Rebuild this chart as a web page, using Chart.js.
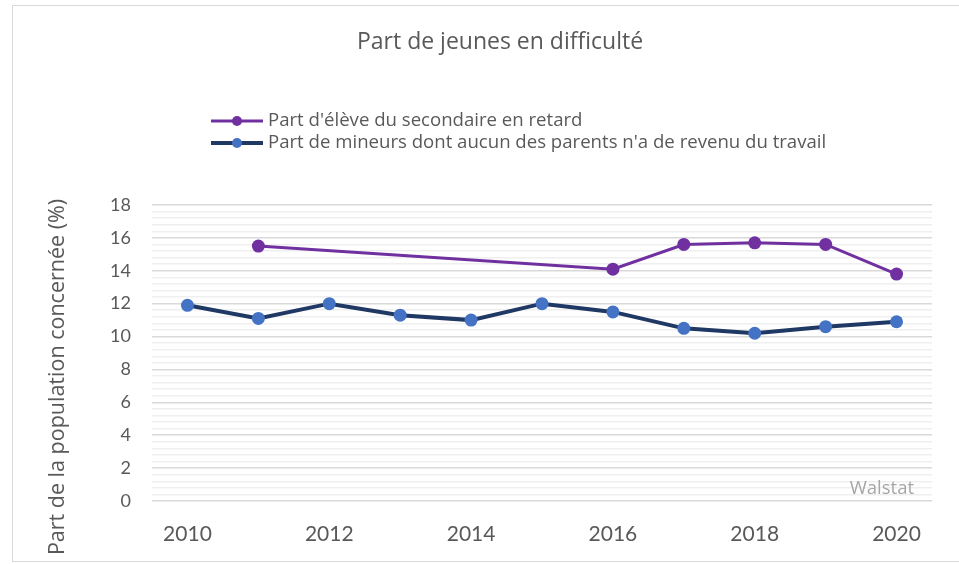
<!DOCTYPE html>
<html>
<head>
<meta charset="utf-8">
<script src="https://cdn.jsdelivr.net/npm/chart.js@4.4.1/dist/chart.umd.min.js"></script>
<style>
  html, body { margin: 0; background: #fff; }
  #wrap { width: 959px; height: 564px; }
</style>
</head>
<body>
<div id="wrap"><canvas id="chart"></canvas></div>
<script>
// ── Data ─────────────────────────────────────────────────────────────────────
const years = ['2010', '2011', '2012', '2013', '2014', '2015', '2016', '2017', '2018', '2019', '2020']
const eleveRetard = [null, 15.5, null, null, null, null, 14.1, 15.6, 15.7, 15.6, 13.8]
const mineursSansRevenu = [11.9, 11.1, 12.0, 11.3, 11.0, 12.0, 11.5, 10.5, 10.2, 10.6, 10.9]

const yMin = 0
const yMax = 18
const yMinorStep = 0.4
const yLabelStep = 2

const chartTitle = 'Part de jeunes en difficulté'
const seriesLabels = [
  "Part d'élève du secondaire en retard",
  "Part de mineurs dont aucun des parents n'a de revenu du travail",
]
const yAxisTitle = 'Part de la population concernée (%)'
const sourceNote = 'Walstat'

const FONT = '"Open Sans", sans-serif'
const TICK_FONT = 'Lato, sans-serif'
const TEXT = '#595959'

const isMajor = v => Math.abs(v / yLabelStep - Math.round(v / yLabelStep)) < 1e-6

// ── Decorations: frame, title, legend, axis title, source ───────────────────
const decorPlugin = {
  id: 'decor',
  beforeDraw(chart) {
    const ctx = chart.ctx
    ctx.save()
    ctx.fillStyle = '#fff'
    ctx.fillRect(0, 0, chart.width, chart.height)
    ctx.strokeStyle = '#d9d9d9'
    ctx.lineWidth = 1
    ctx.strokeRect(12.5, 5.5, chart.width, chart.height - 8)
    ctx.restore()
  },
  afterDraw(chart) {
    const ctx = chart.ctx
    ctx.save()

    // title
    ctx.font = `23px ${FONT}`
    ctx.fillStyle = TEXT
    ctx.textAlign = 'center'
    ctx.textBaseline = 'middle'
    ctx.fillText(chartTitle, 500, 42)

    // legend, one entry per row
    ctx.font = `18.6px ${FONT}`
    ctx.textAlign = 'left'
    chart.data.datasets.forEach((ds, i) => {
      const y = 121 + i * 22
      ctx.strokeStyle = ds.borderColor
      ctx.lineWidth = ds.borderWidth
      ctx.beginPath()
      ctx.moveTo(211, y)
      ctx.lineTo(263, y)
      ctx.stroke()
      ctx.fillStyle = ds.pointBackgroundColor
      ctx.beginPath()
      ctx.arc(237, y, 5, 0, Math.PI * 2)
      ctx.fill()
      ctx.fillStyle = TEXT
      ctx.fillText(ds.label, 268, y)
    })

    // y axis title
    ctx.translate(58, 377)
    ctx.rotate(-Math.PI / 2)
    ctx.font = `21.5px ${FONT}`
    ctx.textAlign = 'center'
    ctx.fillText(yAxisTitle, 0, 0)
    ctx.restore()

    // source
    ctx.save()
    ctx.font = `18.5px ${FONT}`
    ctx.fillStyle = '#a6a6a6'
    ctx.textAlign = 'right'
    ctx.textBaseline = 'middle'
    ctx.fillText(sourceNote, 914, 489)
    ctx.restore()
  },
}

const config = {
  type: 'line',
  plugins: [decorPlugin],
  data: {
    labels: years,
    datasets: [
      {
        label: seriesLabels[0],
        data: eleveRetard,
        borderColor: '#7030a0',
        backgroundColor: '#7030a0',
        borderWidth: 3,
        pointRadius: 6.5,
        pointBackgroundColor: '#7030a0',
        pointBorderColor: '#7030a0',
        pointBorderWidth: 0,
        spanGaps: true,
        tension: 0,
      },
      {
        label: seriesLabels[1],
        data: mineursSansRevenu,
        borderColor: '#203864',
        backgroundColor: '#4472c4',
        borderWidth: 4,
        pointRadius: 6.5,
        pointBackgroundColor: '#4472c4',
        pointBorderColor: '#4472c4',
        pointBorderWidth: 0,
        tension: 0,
      },
    ],
  },
  options: {
    responsive: true,
    maintainAspectRatio: false,
    animation: false,
    layout: { padding: { left: 0, right: 27, top: 205, bottom: 0 } },
    plugins: {
      legend: { display: false },
      title: { display: false },
      tooltip: { enabled: false },
    },
    scales: {
      x: {
        type: 'category',
        offset: true,
        grid: { display: false, drawTicks: false },
        border: { display: false },
        ticks: {
          autoSkip: false,
          maxRotation: 0,
          padding: 21,
          color: TEXT,
          font: { family: TICK_FONT, size: 21 },
          callback: (v, i) => (i % 2 === 0 ? years[i] : ''),
        },
        afterFit: scale => { scale.height = 63 },
      },
      y: {
        min: yMin,
        max: yMax,
        grid: {
          drawTicks: false,
          color: c => (isMajor(c.tick.value) ? '#d9d9d9' : '#efefef'),
          lineWidth: 1.5,
        },
        border: { display: false },
        ticks: {
          stepSize: yMinorStep,
          autoSkip: false,
          padding: 21,
          color: TEXT,
          font: { family: TICK_FONT, size: 18 },
          callback: v => (isMajor(v) ? String(Math.round(v)) : ''),
        },
        afterFit: scale => { scale.width = 152 },
      },
    },
  },
}

new Chart(document.getElementById('chart'), config)
</script>
</body>
</html>
